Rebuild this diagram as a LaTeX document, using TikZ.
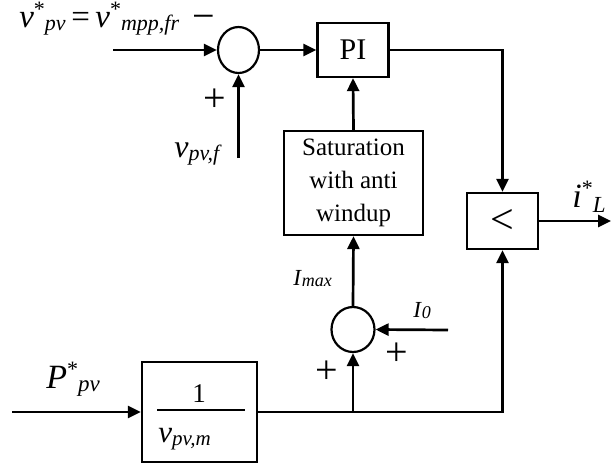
\documentclass[tikz,border=0pt]{standalone}
\usepackage{fontspec}
\setmainfont{Liberation Serif}
\usetikzlibrary{arrows.meta,shapes.geometric}
\newcommand{\sz}[1]{\fontsize{#1}{#1}\selectfont}
\newcommand{\sst}[1][22]{\raisebox{0.33em}{\sz{#1}*}}
\newcommand{\ssb}[3][0.1em]{\raisebox{-#1}{\sz{#2}\itshape #3}}
\begin{document}
\begin{tikzpicture}[x=1pt,y=-1pt,
  line width=2.7pt,
  arr/.style={-{Triangle[length=13pt,width=12pt]}},
  blk/.style={draw,line width=2.2pt,rectangle,inner sep=0pt,align=center},
  sumj/.style={draw,line width=2.2pt,ellipse,inner sep=0pt},
  lbl/.style={inner sep=0pt,anchor=base west},
  sgn/.style={inner sep=0pt,font=\sz{40}}]
\useasboundingbox (0,0) rectangle (611,464);

% blocks
\node[sumj,minimum width=41pt,minimum height=46pt] (s1) at (238.5,50) {};
\node[blk,minimum width=71pt,minimum height=54pt,font=\sz{30}] (pi) at (353,50) {PI};
\node[blk,minimum width=139pt,minimum height=104pt,font=\sz{25}] (sat) at (353.5,183)
  {\raisebox{-5pt}{\begin{tabular}{@{}c@{}}Saturation\\[8pt]with anti\\[8pt]windup\end{tabular}}};
\node[blk,minimum width=71pt,minimum height=56pt,font=\sz{42}] (mn) at (502.5,221) {\raisebox{-4pt}{<}};
\node[blk,minimum width=115pt,minimum height=100pt] (g) at (199.5,412) {};
\node[sumj,minimum width=43pt,minimum height=45pt] (s2) at (353,329.5) {};

% fraction inside gain block
\draw[line width=2.2pt] ([xshift=-42.5pt,yshift=2pt]g.center) -- ([xshift=45.5pt,yshift=2pt]g.center);
\node[inner sep=0pt,anchor=base,font=\sz{27}] (one) at (199,402) {1};
\node[lbl,font=\sz{31}] (vpvm) at (157,442) {\textit{v}\ssb{21}{pv,m}};

% free ends
\coordinate (in1) at (113,50);
\coordinate (vf) at (238.5,158);
\coordinate (out) at (611,221);
\coordinate (pin) at (12,412);
\coordinate (i0) at (448,330);
\coordinate (jn) at (353,412);

% connectors
\draw[arr] (in1) -- (s1.west);
\draw[arr] (s1.east) -- (pi.west);
\draw[arr] (vf) -- (s1.south);
\draw[arr] (sat.north) -- (pi.south);
\draw[arr] (pi.east) -| (mn.north);
\draw[arr] (mn.east) -- (out);
\draw[arr] (pin) -- (g.west);
\draw[arr] (g.east) -| (mn.south);
\draw[arr] (jn) -- (s2.south);
\draw[arr] (i0) -- (s2.east);
\draw[arr] (s2.north) -- (sat.south);

% labels
\node[lbl,font=\sz{33}] (lref) at (18,27)
  {\textit{v}\sst\ssb{22}{pv}\,=\,\textit{v}\sst\ssb{22}{mpp,fr}};
\node[sgn] (m1) at (204,22) {\textminus};
\node[sgn] (p1) at (215,100) {+};
\node[lbl,font=\sz{32}] (lvf) at (173,157) {\textit{v}\ssb{22}{pv,f}};
\node[lbl,font=\sz{23}] (limax) at (292,285) {\textit{I}\ssb[0.08em]{18}{max}};
\node[lbl,font=\sz{23}] (li0) at (412,317) {\textit{I}\ssb[0.08em]{18}{0}};
\node[sgn] (p2) at (397,354) {+};
\node[sgn] (p3) at (327,372) {+};
\node[lbl,font=\sz{34}] (lp) at (45,388) {\textit{P}\sst\ssb{23}{pv}};
\node[lbl,font=\sz{34}] (li) at (571,207) {\textit{i}\sst\ssb[0.17em]{23}{L}};
\end{tikzpicture}
\end{document}
